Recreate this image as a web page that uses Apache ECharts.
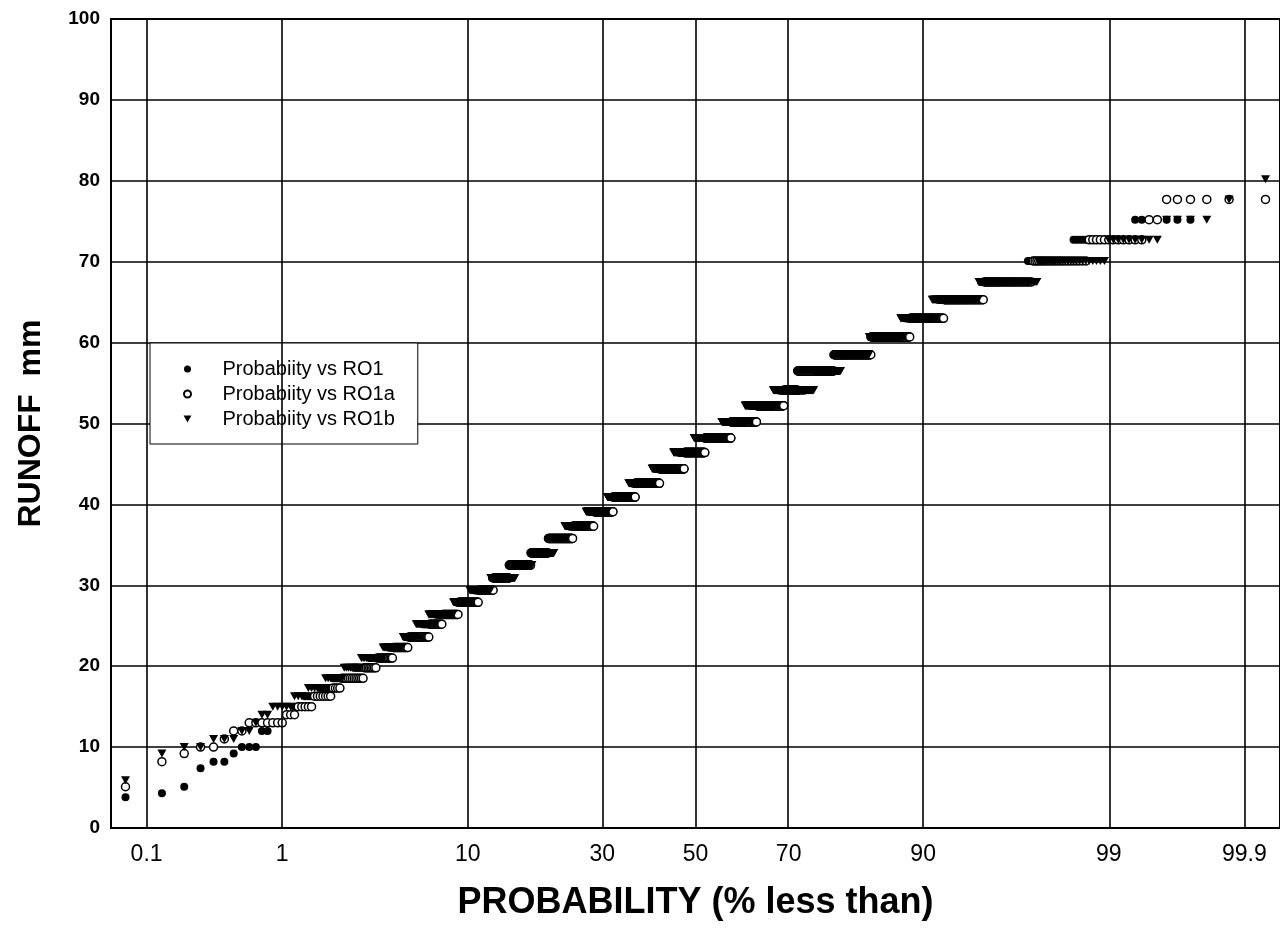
<!DOCTYPE html>
<html><head><meta charset="utf-8">
<script src="https://cdn.jsdelivr.net/npm/echarts@6/dist/echarts.min.js"></script>
<style>html,body{margin:0;padding:0;background:#fff}#c{width:1280px;height:928px}</style>
</head><body><div id="c"></div>
<script>
// ---- data (runoff levels in mm and number of values at each level, N = 1500 per series) ----
const sampleSize = 1500;
const runoffLevels = [3.8,4.3,5.1,5.9,7.4,8.2,9.2,10.0,11.0,12.0,13.0,14.0,15.0,16.3,17.3,18.5,19.8,21.0,22.3,23.6,25.2,26.4,27.9,29.4,30.9,32.5,34.0,35.8,37.3,39.1,40.9,42.6,44.4,46.4,48.2,50.2,52.2,54.1,56.5,58.5,60.7,63.0,65.3,67.5,70.1,72.7,75.2,77.7,80.2];
const countsRO1  = [1,1,1,0,1,2,1,3,0,2, 3,2,3,5,5,10,9,13,14,17, 14,25,27,29,38,40,46,44,58,59, 67,77,77,69,90,80,87,78,83,75, 66,49,48,35,21,15,7,3,0];
const countsRO1a = [0,0,1,0,0,1,1,2,1,2, 7,3,5,7,4,12,8,12,13,21, 15,21,30,25,29,45,40,62,58,57, 69,79,82,70,87,83,84,40,97,85, 72,49,43,35,23,12,2,6,0];
const countsRO1b = [0,0,0,1,0,0,1,2,3,2, 1,2,5,4,6,8,9,14,16,12, 13,30,23,34,46,36,51,27,57,61, 66,75,71,69,93,77,89,117,69,64, 60,49,54,43,25,9,4,1,1];
const seriesNames = ['Probabiity vs RO1','Probabiity vs RO1a','Probabiity vs RO1b'];
const probTicks = [0.1,1,10,30,50,70,90,99,99.9];
const probTickLabels = ['0.1','1','10','30','50','70','90','99','99.9'];
const probRange = [0.05, 99.95];
const yMin = 0, yMax = 100, yStep = 10;

// inverse standard normal CDF (normal probability scale)
function probit(p){
  const a=[-3.969683028665376e+01,2.209460984245205e+02,-2.759285104469687e+02,1.383577518672690e+02,-3.066479806614716e+01,2.506628277459239e+00];
  const b=[-5.447609879822406e+01,1.615858368580409e+02,-1.556989798598866e+02,6.680131188771972e+01,-1.328068155288572e+01];
  const c=[-7.784894002430293e-03,-3.223964580411365e-01,-2.400758277161838e+00,-2.549732539343734e+00,4.374664141464968e+00,2.938163982698783e+00];
  const d=[7.784695709041462e-03,3.224671290700398e-01,2.445134137142996e+00,3.754408661907416e+00];
  const pl=0.02425, ph=1-pl; let q,r;
  if(p<pl){q=Math.sqrt(-2*Math.log(p));return (((((c[0]*q+c[1])*q+c[2])*q+c[3])*q+c[4])*q+c[5])/((((d[0]*q+d[1])*q+d[2])*q+d[3])*q+1);}
  if(p<=ph){q=p-0.5;r=q*q;return (((((a[0]*r+a[1])*r+a[2])*r+a[3])*r+a[4])*r+a[5])*q/(((((b[0]*r+b[1])*r+b[2])*r+b[3])*r+b[4])*r+1);}
  q=Math.sqrt(-2*Math.log(1-p));return -(((((c[0]*q+c[1])*q+c[2])*q+c[3])*q+c[4])*q+c[5])/((((d[0]*q+d[1])*q+d[2])*q+d[3])*q+1);
}
// Weibull plotting positions i/(N+1) of the sorted values
function buildPoints(counts){
  const pts=[]; let rank=1;
  counts.forEach((n,j)=>{ for(let k=0;k<n;k++){ pts.push([probit(rank/(sampleSize+1)), runoffLevels[j]]); rank++; } });
  return pts;
}
const tickZ = probTicks.map(p=>probit(p/100));
const FONT = '"Liberation Sans", Arial, Helvetica, sans-serif';
const TRI = 'path://M0,0L10,0L5,9Z';

const chart = echarts.init(document.getElementById('c'), null, {renderer:'canvas'});
chart.setOption({
  animation:false,
  backgroundColor:'#fff',
  grid:{left:111, top:19, width:1172, height:809, show:true, borderColor:'#000', borderWidth:2, backgroundColor:'transparent'},
  legend:{
    data:seriesNames, orient:'vertical', left:150, top:343,
    backgroundColor:'#fff', borderColor:'#000', borderWidth:1,
    padding:[16,23,15,33], itemWidth:60, itemHeight:7, itemGap:5,
    textStyle:{fontSize:20, lineHeight:19, color:'#000', fontFamily:FONT}
  },
  xAxis:{
    type:'value', min:probit(probRange[0]/100), max:probit(probRange[1]/100),
    name:'PROBABILITY (% less than)', nameLocation:'middle', nameGap:57,
    nameTextStyle:{fontSize:36, fontWeight:'bold', color:'#000', fontFamily:FONT},
    axisLine:{show:true, onZero:false, lineStyle:{color:'#000', width:2}},
    axisTick:{show:false},
    splitLine:{show:false},
    axisLabel:{customValues:tickZ, margin:15, fontSize:23, color:'#000', fontFamily:FONT,
      formatter:function(v){let bi=0,bd=1e9;tickZ.forEach((z,i)=>{const dd=Math.abs(z-v);if(dd<bd){bd=dd;bi=i;}});return probTickLabels[bi];}}
  },
  yAxis:{
    type:'value', min:yMin, max:yMax, interval:yStep,
    name:'RUNOFF  mm', nameLocation:'middle', nameGap:64, nameRotate:90,
    nameTextStyle:{fontSize:32, fontWeight:'bold', color:'#000', fontFamily:FONT},
    axisLine:{show:true, onZero:false, lineStyle:{color:'#000', width:2}},
    axisTick:{show:false},
    splitLine:{show:true, lineStyle:{color:'#000', width:1.6}},
    axisLabel:{margin:11, fontSize:19, fontWeight:'bold', color:'#000', fontFamily:FONT}
  },
  series:[
    {type:'line', data:[], z:1, silent:true,
     markLine:{silent:true, symbol:'none', label:{show:false}, animation:false,
       lineStyle:{color:'#000', width:1.6, type:'solid'},
       data:tickZ.map(z=>({xAxis:z}))}},
    {name:seriesNames[0], type:'scatter', z:2, symbol:'circle', symbolSize:8,
     itemStyle:{color:'#000', opacity:1}, data:buildPoints(countsRO1)},
    {name:seriesNames[1], type:'scatter', z:2, symbol:'circle', symbolSize:8,
     itemStyle:{color:'#fff', borderColor:'#000', borderWidth:1.5, opacity:1}, data:buildPoints(countsRO1a)},
    {name:seriesNames[2], type:'scatter', z:2, symbol:TRI, symbolSize:[9,8],
     itemStyle:{color:'#000', opacity:1}, data:buildPoints(countsRO1b)}
  ]
});
</script></body></html>
